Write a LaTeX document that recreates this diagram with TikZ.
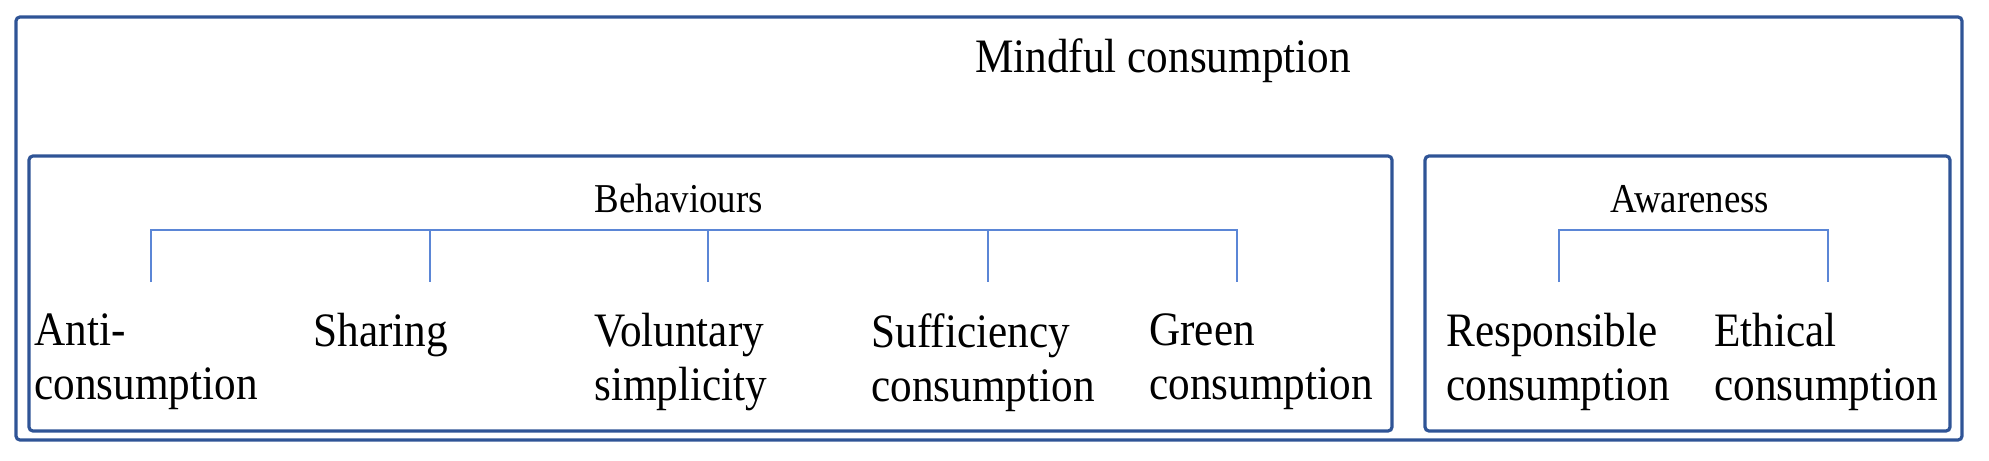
\documentclass[tikz,border=0pt]{standalone}
\usepackage{fontspec}
\setmainfont[FakeStretch=0.9]{Liberation Serif}
\definecolor{boxblue}{HTML}{2F5496}
\definecolor{linkblue}{HTML}{5B86D6}
\begin{document}
\begin{tikzpicture}[x=0.5pt,y=-0.5pt,
  frame/.style={draw=boxblue,line width=1.6pt,rounded corners=2pt},
  link/.style={draw=linkblue,line width=0.9pt},
  title/.style={font=\fontsize{24}{27}\selectfont,inner sep=0pt,anchor=base},
  sub/.style={font=\fontsize{20.5}{24}\selectfont,inner sep=0pt,anchor=base},
  item/.style={font=\fontsize{24}{27}\selectfont,inner sep=0pt,anchor=north west,align=left}]
\useasboundingbox (0,0) rectangle (1989,460);
\draw[frame] (16,17) rectangle (1962,440);
\draw[frame] (29,156) rectangle (1392,431);
\draw[frame] (1425,156) rectangle (1950,431);
\node[title] (mind) at (1163,73) {Mindful consumption};
\node[sub] (beh) at (679,212) {Behaviours};
\node[sub] (awa) at (1690,212) {Awareness};
\node[item] (anti) at (34,313) {Anti-\\consumption};
\node[item] (shar) at (313,313) {Sharing};
\node[item] (volu) at (594,313) {Voluntary\\simplicity};
\node[item] (suff) at (871,313) {Sufficiency\\consumption};
\node[item] (gree) at (1149,313) {Green\\consumption};
\node[item] (resp) at (1446,313) {Responsible\\consumption};
\node[item] (ethi) at (1714,313) {Ethical\\consumption};
\coordinate (b1) at (151,230); \coordinate (b1e) at (151,282);
\coordinate (b2) at (430,230); \coordinate (b2e) at (430,282);
\coordinate (b3) at (708,230); \coordinate (b3e) at (708,282);
\coordinate (b4) at (988,230); \coordinate (b4e) at (988,282);
\coordinate (b5) at (1237,230); \coordinate (b5e) at (1237,282);
\coordinate (a1) at (1559,230); \coordinate (a1e) at (1559,282);
\coordinate (a2) at (1828,230); \coordinate (a2e) at (1828,282);
\draw[link] (b1e) -- (b1) -- (b5) -- (b5e);
\draw[link] (b2) -- (b2e);
\draw[link] (b3) -- (b3e);
\draw[link] (b4) -- (b4e);
\draw[link] (a1e) -- (a1) -- (a2) -- (a2e);
\end{tikzpicture}
\end{document}
